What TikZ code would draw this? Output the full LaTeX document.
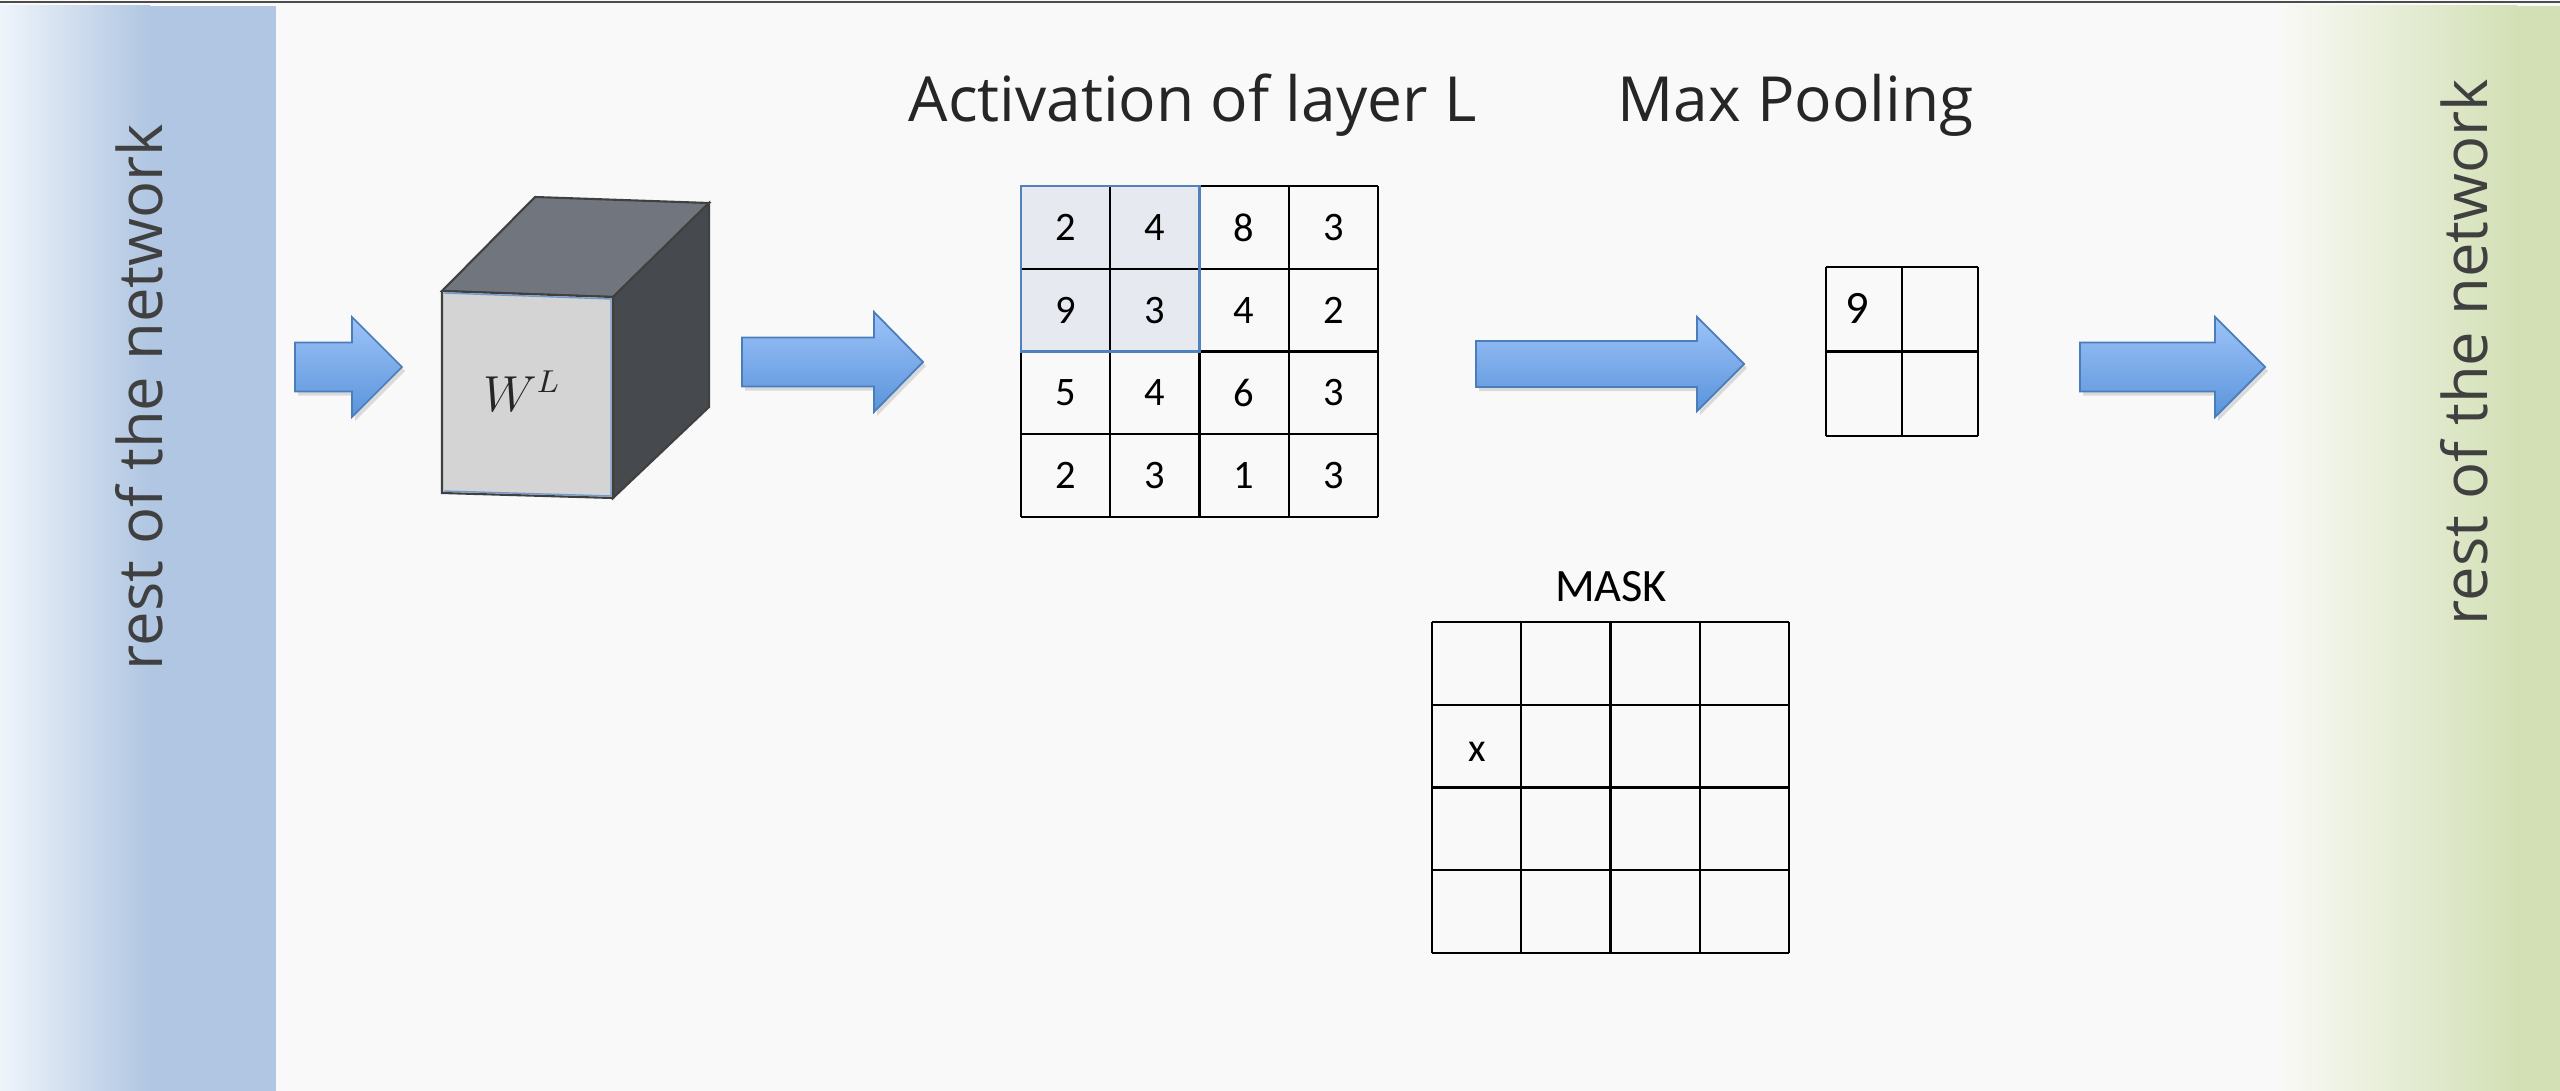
\documentclass[tikz,border=0pt]{standalone}
\usepackage{fontspec}
\setmainfont{Carlito}
\newfontfamily\headfont{Open Sans}

\definecolor{bgcol}{HTML}{F9F9F9}
\definecolor{leftbar}{HTML}{B0C6E2}
\definecolor{leftfade}{HTML}{EFF4FA}
\definecolor{rightbar}{HTML}{D3E0B6}
\definecolor{rightfade}{HTML}{F8F9F4}
\definecolor{arrowtop}{HTML}{9DC3F8}
\definecolor{arrowbot}{HTML}{5A94DB}
\definecolor{arrowedge}{HTML}{4A7EBB}
\definecolor{cubetop}{HTML}{71757E}
\definecolor{cubeside}{HTML}{464A4E}
\definecolor{cubefront}{HTML}{D4D4D4}
\definecolor{cubeline}{HTML}{404040}
\definecolor{poolfill}{HTML}{E6E9EF}
\definecolor{pooledge}{HTML}{4F81BD}
\definecolor{labelgray}{HTML}{404040}

\tikzset{
  gridline/.style={line width=0.6pt, black},
  cell/.style={font=\fontsize{11.5}{13}\selectfont},
  bigcell/.style={font=\fontsize{13.2}{15}\selectfont},
  sidelabel/.style={rotate=90, anchor=base, text=labelgray, inner sep=0pt,
    font=\headfont\fontsize{17.5}{20}\selectfont},
  title/.style={anchor=base west, inner sep=0pt, text=black!85,
    font=\headfont\fontsize{17.7}{20}\selectfont},
  arrowshadow/.style={fill=black, fill opacity=0.12},
  arrowbody/.style={top color=arrowtop, bottom color=arrowbot, draw=arrowedge, line width=0.5pt}
}

% block arrow: left x, head x, tip x, centre y, half body, half head
\newcommand{\blockarrow}[6]{%
  \foreach \dx/\dy/\sty in {3/4/arrowshadow, 0/0/arrowbody} {
    \path[\sty, shift={(\dx,\dy)}] ({#1},{#4-#5}) -- ({#2},{#4-#5}) -- ({#2},{#4-#6})
      -- ({#3},{#4}) -- ({#2},{#4+#6}) -- ({#2},{#4+#5}) -- ({#1},{#4+#5}) -- cycle;
  }
}

\begin{document}
\begin{tikzpicture}[x=0.01cm, y=-0.01cm]
\def\actx{1021}
\def\acty{186}
\def\maskx{1432}
\def\masky{622}
\def\cw{89.25}
\def\ch{82.75}
\def\poolx{1826}
\def\pooly{267}
\def\pw{76}
\def\ph{84.5}
\useasboundingbox (0,0) rectangle (2560,1091);
\fill[bgcol] (0,0) rectangle (2560,1091);
\draw[line width=0.57pt, black!70] (0,2) -- (2560,2);
% side bars
\shade[left color=leftfade, right color=leftbar] (0,6) rectangle (150,1091);
\fill[leftbar] (150,6) rectangle (276,1091);
\shade[left color=rightfade, right color=rightbar] (2283,6) rectangle (2517,1091);
\fill[rightbar] (2517,6) rectangle (2560,1091);
\node[sidelabel] (restin) at (162,397) {rest of the network};
\node[sidelabel] (restout) at (2487,352) {rest of the network};
% titles
\node[title] (acttitle) at (908,122) {Activation of layer L};
\node[title] (pooltitle) at (1617,122) {Max Pooling};
% arrows
\blockarrow{295}{352}{402}{367}{24.5}{50}
\blockarrow{742}{874}{923}{362}{24.5}{50}
\blockarrow{1476}{1697}{1744}{364}{23}{47}
\blockarrow{2080}{2215}{2265}{367}{24.5}{50}
% weight cube
\filldraw[fill=cubetop, draw=cubeline, line width=0.6pt] (442,291) -- (535,197) -- (709,203) -- (613,297) -- cycle;
\filldraw[fill=cubeside, draw=cubeline, line width=0.6pt] (613,297) -- (709,203) -- (709,407) -- (613,498) -- cycle;
\filldraw[fill=cubefront, draw=cubeline, line width=0.6pt] (442,291) -- (613,297) -- (613,498) -- (442,493) -- cycle;
\draw[pooledge!80, line width=0.4pt] (444,293) -- (611,299) -- (611,496) -- (444,491);
\node[text=black!85, font=\fontsize{13.5}{16}\selectfont] (weights) at (522,391) {$W^L$};
% activation of layer L
\fill[poolfill] (\actx,\acty) rectangle ({\actx+2*\cw},{\acty+2*\ch});
\foreach \i in {0,...,4} {
    \draw[gridline] ({\actx+\i*\cw},\acty) -- ++(0,{4*\ch});
    \draw[gridline] (\actx,{\acty+\i*\ch}) -- ++({4*\cw},0);
}
\draw[pooledge, line width=0.8pt] (\actx,\acty) rectangle ({\actx+2*\cw},{\acty+2*\ch});
\foreach \row [count=\r] in {{2,4,8,3},{9,3,4,2},{5,4,6,3},{2,3,1,3}} {
    \foreach \v [count=\c] in \row {
        \node[cell] (act-\r-\c) at ({\actx+(\c-0.5)*\cw},{\acty+(\r-0.5)*\ch}) {\v};
    }
}
% max pooling output
\foreach \i in {0,1,2} {
    \draw[gridline] ({\poolx+\i*\pw},\pooly) -- ++(0,{2*\ph});
    \draw[gridline] (\poolx,{\pooly+\i*\ph}) -- ++({2*\pw},0);
}
\node[bigcell] (pool-1-1) at (1857,308) {9};
% mask
\node[bigcell] (masktitle) at (1611,587) {MASK};
\foreach \i in {0,...,4} {
    \draw[gridline] ({\maskx+\i*\cw},\masky) -- ++(0,{4*\ch});
    \draw[gridline] (\maskx,{\masky+\i*\ch}) -- ++({4*\cw},0);
}
\node[cell] (mask-2-1) at (1477,752) {x};
\end{tikzpicture}
\end{document}
